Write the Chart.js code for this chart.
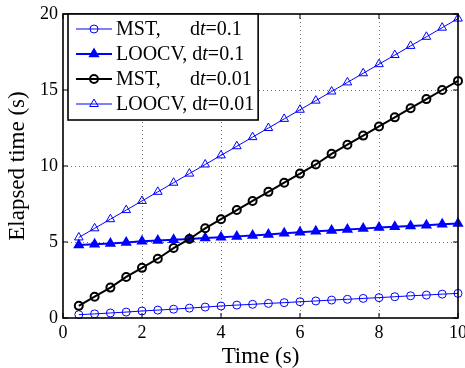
<!DOCTYPE html>
<html>
<head>
<meta charset="utf-8">
<script src="https://cdn.jsdelivr.net/npm/chart.js@4"></script>
<style>
html, body { margin: 0; padding: 0; background: #fff; }
</style>
</head>
<body>
<canvas id="chart" width="465" height="368"></canvas>
<script>
// time axis samples (s)
const times = [0.4, 0.8, 1.2, 1.6, 2.0, 2.4, 2.8, 3.2, 3.6, 4.0, 4.4, 4.8, 5.2,
               5.6, 6.0, 6.4, 6.8, 7.2, 7.6, 8.0, 8.4, 8.8, 9.2, 9.6, 10.0];

// elapsed time (s) per method / step
const mstCoarse = [0.22, 0.27, 0.33, 0.39, 0.46, 0.52, 0.58, 0.65, 0.72, 0.79, 0.85, 0.90, 0.96,
                   1.01, 1.07, 1.12, 1.18, 1.23, 1.29, 1.34, 1.40, 1.46, 1.51, 1.57, 1.62];
const loocvCoarse = [4.80, 4.85, 4.90, 4.96, 5.05, 5.10, 5.15, 5.20, 5.26, 5.31, 5.37, 5.43, 5.50,
                     5.57, 5.64, 5.70, 5.76, 5.82, 5.88, 5.95, 6.00, 6.05, 6.10, 6.16, 6.22];
const mstFine = [0.8, 1.4, 2.0, 2.7, 3.3, 3.9, 4.6, 5.2, 5.9, 6.5, 7.1, 7.7, 8.3,
                 8.9, 9.5, 10.1, 10.8, 11.4, 12.0, 12.6, 13.2, 13.8, 14.4, 15.0, 15.6];
const loocvFine = [5.3, 5.9, 6.5, 7.1, 7.7, 8.3, 8.9, 9.5, 10.1, 10.7, 11.3, 11.9, 12.5,
                   13.1, 13.7, 14.3, 14.9, 15.5, 16.1, 16.7, 17.3, 17.9, 18.5, 19.1, 19.7];

const legendNames = ['MST,', 'LOOCV,', 'MST,', 'LOOCV,'];
const legendSteps = ['0.1', '0.1', '0.01', '0.01'];

const xTicks = [0, 2, 4, 6, 8, 10];
const yTicks = [0, 5, 10, 15, 20];

const FONT = '"Liberation Serif", "Times New Roman", serif';
const BLUE = '#0000ff';

function pts(ys) {
    return times.map((t, i) => ({ x: t, y: ys[i] }));
}

function series(ys, color, width, style, radius, filled, order) {
    return {
        data: pts(ys),
        borderColor: color,
        borderWidth: width,
        pointStyle: style,
        pointRadius: radius,
        pointBorderWidth: width,
        pointBorderColor: color,
        pointBackgroundColor: filled ? color : 'rgba(0,0,0,0)',
        fill: false,
        tension: 0,
        clip: false,
        order: order
    };
}

// inward ticks, frame and the legend box with the italic t
const framePlugin = {
    id: 'frame',
    afterDraw(chart) {
        const { ctx, chartArea: a, scales: { x, y } } = chart;
        ctx.save();
        ctx.strokeStyle = '#000';
        ctx.lineWidth = 1;
        ctx.beginPath();
        x.ticks.forEach(t => {
            const px = x.getPixelForValue(t.value);
            ctx.moveTo(px, a.bottom); ctx.lineTo(px, a.bottom - 5);
            ctx.moveTo(px, a.top); ctx.lineTo(px, a.top + 5);
        });
        y.ticks.forEach(t => {
            const py = y.getPixelForValue(t.value);
            ctx.moveTo(a.left, py); ctx.lineTo(a.left + 5, py);
            ctx.moveTo(a.right, py); ctx.lineTo(a.right - 5, py);
        });
        ctx.stroke();
        ctx.lineWidth = 1.6;
        ctx.strokeRect(a.left, a.top, a.right - a.left, a.bottom - a.top);

        // legend
        const normal = '20px ' + FONT;
        const italic = 'italic 20px ' + FONT;
        const bx = a.left + 5, by = a.top, rowH = 25;
        const textX = bx + 48, dCol = bx + 122;
        ctx.font = normal;
        const rows = legendNames.map((name, i) => {
            const dx = Math.max(textX + ctx.measureText(name + ' ').width, dCol);
            const w = ctx.measureText('d').width;
            ctx.font = italic;
            const tw = ctx.measureText('t').width;
            ctx.font = normal;
            const end = dx + w + tw + ctx.measureText('=' + legendSteps[i]).width;
            return { name, dx, w, tw, end };
        });
        const bw = Math.max(...rows.map(r => r.end)) + 4 - bx;
        const bh = rowH * 4 + 6;
        ctx.fillStyle = '#fff';
        ctx.fillRect(bx, by, bw, bh);
        ctx.lineWidth = 1.6;
        ctx.strokeStyle = '#000';
        ctx.strokeRect(bx, by, bw, bh);

        chart.data.datasets.forEach((ds, i) => {
            const ry = by + 15 + i * rowH;
            ctx.strokeStyle = ds.borderColor;
            ctx.lineWidth = ds.borderWidth;
            ctx.beginPath();
            ctx.moveTo(bx + 8, ry); ctx.lineTo(bx + 44, ry);
            ctx.stroke();
            ctx.fillStyle = ds.pointBackgroundColor;
            Chart.helpers.drawPoint(ctx, {
                pointStyle: ds.pointStyle, radius: ds.pointRadius,
                rotation: 0, borderWidth: ds.pointBorderWidth
            }, bx + 26, ry);

            const r = rows[i];
            ctx.fillStyle = '#000';
            ctx.textBaseline = 'middle';
            ctx.textAlign = 'left';
            ctx.font = normal;
            ctx.fillText(r.name, textX, ry + 1);
            ctx.fillText('d', r.dx, ry + 1);
            ctx.font = italic;
            ctx.fillText('t', r.dx + r.w, ry + 1);
            ctx.font = normal;
            ctx.fillText('=' + legendSteps[i], r.dx + r.w + r.tw, ry + 1);
        });
        ctx.restore();
    }
};

function gridColor(ctx, max) {
    const v = ctx.tick ? ctx.tick.value : null;
    return (v === 0 || v === max) ? 'rgba(0,0,0,0)' : '#777';
}

new Chart(document.getElementById('chart').getContext('2d'), {
    type: 'line',
    data: {
        datasets: [
            series(mstCoarse, BLUE, 1, 'circle', 4, false, 3),
            series(loocvCoarse, BLUE, 2, 'triangle', 4.5, true, 2),
            series(mstFine, '#000', 2, 'circle', 4, false, 1),
            series(loocvFine, BLUE, 1, 'triangle', 5, false, 0)
        ]
    },
    options: {
        responsive: false,
        animation: false,
        layout: { padding: { left: 0, top: 14, right: 7, bottom: 0 } },
        plugins: { legend: { display: false }, tooltip: { enabled: false } },
        scales: {
            x: {
                type: 'linear', min: 0, max: 10,
                afterBuildTicks: s => { s.ticks = xTicks.map(v => ({ value: v })); },
                afterFit: s => { s.height = 50; s.paddingRight = 0; s.paddingLeft = 0; },
                ticks: { color: '#000', font: { family: FONT, size: 18 }, padding: 4, maxRotation: 0 },
                grid: { color: c => gridColor(c, 10), lineWidth: 1, drawTicks: false },
                border: { display: false, dash: [1, 3] },
                title: {
                    display: true, text: 'Time (s)', color: '#000',
                    font: { family: FONT, size: 23, lineHeight: 1 }, padding: { top: 0, bottom: 0 }
                }
            },
            y: {
                type: 'linear', min: 0, max: 20,
                afterBuildTicks: s => { s.ticks = yTicks.map(v => ({ value: v })); },
                afterFit: s => { s.width = 63; s.paddingTop = 0; s.paddingBottom = 0; },
                ticks: { color: '#000', font: { family: FONT, size: 18 }, padding: 5 },
                grid: { color: c => gridColor(c, 20), lineWidth: 1, drawTicks: false },
                border: { display: false, dash: [1, 3] },
                title: {
                    display: true, text: 'Elapsed time (s)', color: '#000',
                    font: { family: FONT, size: 23, lineHeight: 1 }, padding: { top: 6, bottom: 0 }
                }
            }
        }
    },
    plugins: [framePlugin]
});
</script>
</body>
</html>
